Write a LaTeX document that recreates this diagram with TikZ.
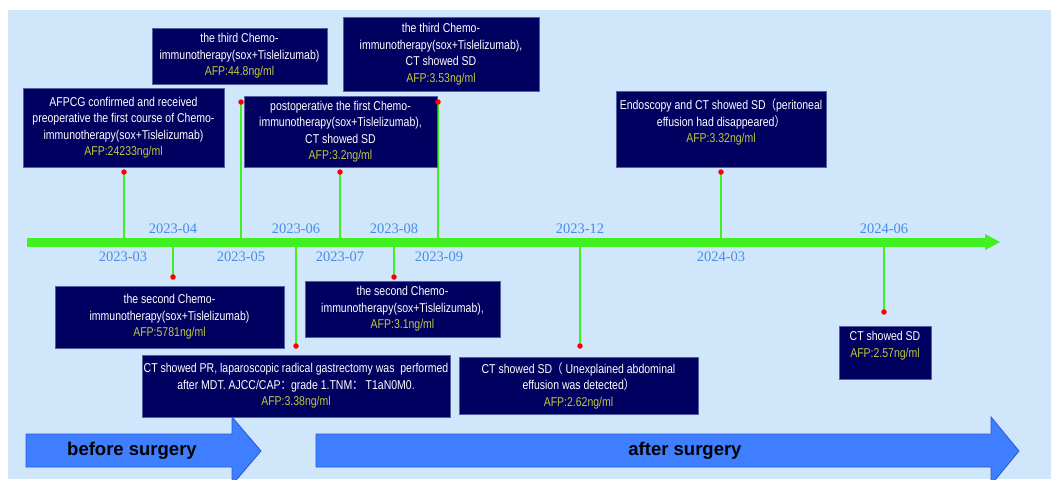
\documentclass[tikz,border=0pt]{standalone}
\usepackage{fontspec}
\setmainfont{Liberation Sans}
\newfontfamily\boxfont[FakeStretch=0.82]{Liberation Sans}
\newfontfamily\cjkf[FakeStretch=0.82]{Noto Sans CJK SC}
\newfontfamily\datefont{Liberation Serif}
\definecolor{bg}{RGB}{208,230,250}
\definecolor{navy}{RGB}{0,0,96}
\definecolor{navyedge}{RGB}{80,96,160}
\definecolor{afpc}{RGB}{190,200,60}
\definecolor{tl}{RGB}{64,240,32}
\definecolor{datec}{RGB}{74,140,230}
\definecolor{arrowfill}{RGB}{63,127,255}
\definecolor{arrowedge}{RGB}{40,90,210}
\newcommand\afpv[1]{\textcolor{afpc}{#1}}
\tikzset{
  box/.style={draw=navyedge, line width=0.8pt, fill=navy, text=white,
    font=\boxfont\fontsize{12.8}{16.5}\selectfont, align=center, inner sep=0pt},
  conn/.style={draw=tl, line width=2pt},
  reddot/.style={circle, fill=red, inner sep=0pt, minimum size=5.5pt},
  datelbl/.style={text=datec, font=\datefont\fontsize{14.5}{16}\selectfont, inner sep=0pt},
  bigarrow/.style={fill=arrowfill, draw=arrowedge, line width=0.8pt},
  arrowlbl/.style={font=\bfseries\fontsize{18.5}{20}\selectfont, text=black, inner sep=0pt}
}
\begin{document}
\begin{tikzpicture}[x=1pt,y=-1pt]
\useasboundingbox (0,0) rectangle (1051,479);
\clip (0,0) rectangle (1051,479);
% background
\fill[bg] (8,10) rectangle (1051,479);

% phase arrows
\draw[bigarrow] (26,434) -- (232,434) -- (232,417) -- (261,451) -- (232,485) -- (232,467) -- (26,467) -- cycle;
\node[arrowlbl] (before) at (132,451) {before surgery};
\draw[bigarrow] (316,434) -- (991,434) -- (991,417) -- (1019,451) -- (991,485) -- (991,467) -- (316,467) -- cycle;
\node[arrowlbl] (after) at (685,451) {after surgery};

% timeline coordinates
\coordinate (tlstart) at (27,242);
\coordinate (tlend) at (986,242);

% connector points on the line and their ends
\coordinate (t1) at (124,242);  \coordinate (e1) at (124,172);
\coordinate (t2) at (241,242);  \coordinate (e2) at (241,102);
\coordinate (t3) at (340,242);  \coordinate (e3) at (340,172);
\coordinate (t4) at (438,242);  \coordinate (e4) at (438,102);
\coordinate (t5) at (721,242);  \coordinate (e5) at (721,172);
\coordinate (b1) at (173,242);  \coordinate (f1) at (173,277);
\coordinate (b2) at (296,242);  \coordinate (f2) at (296,346);
\coordinate (b3) at (394,242);  \coordinate (f3) at (394,277);
\coordinate (b4) at (580,242);  \coordinate (f4) at (580,346);
\coordinate (b5) at (884,242);  \coordinate (f5) at (884,312);

\foreach \a/\b in {t1/e1,t2/e2,t3/e3,t4/e4,t5/e5,b1/f1,b2/f2,b3/f3,b4/f4,b5/f5}
  \draw[conn] (\a) -- (\b);

% timeline
\draw[draw=tl, line width=9pt] (tlstart) -- (tlend);
\fill[tl] (985,234) -- (1000,242) -- (985,250) -- cycle;

% boxes
\node[box, minimum width=201pt, minimum height=79pt] (A) at (123.5,127.5)
  {AFPCG confirmed and received\\preoperative the first course of Chemo-\\immunotherapy(sox+Tislelizumab)\\\afpv{AFP:24233ng/ml}};
\node[box, minimum width=175pt, minimum height=56pt] (B) at (239.5,56)
  {the third Chemo-\\immunotherapy(sox+Tislelizumab)\\\afpv{AFP:44.8ng/ml}};
\node[box, minimum width=196pt, minimum height=74pt] (C) at (441,54)
  {the third Chemo-\\immunotherapy(sox+Tislelizumab),\\CT showed SD\\\afpv{AFP:3.53ng/ml}};
\node[box, minimum width=193pt, minimum height=71pt] (D) at (340.5,131.5)
  {postoperative the first Chemo-\\immunotherapy(sox+Tislelizumab),\\CT showed SD\\\afpv{AFP:3.2ng/ml}};
\node[box, minimum width=210pt, minimum height=76pt] (E) at (721,129)
  {Endoscopy and CT showed SD{\cjkf （}peritoneal\\effusion had disappeared{\cjkf ）}\\\afpv{AFP:3.32ng/ml}\\\mbox{}};
\node[box, minimum width=229pt, minimum height=62pt] (F) at (169.5,317)
  {the second Chemo-\\immunotherapy(sox+Tislelizumab)\\\afpv{AFP:5781ng/ml}};
\node[box, minimum width=195pt, minimum height=56pt] (G) at (402.5,309)
  {the second Chemo-\\immunotherapy(sox+Tislelizumab),\\\afpv{AFP:3.1ng/ml}};
\node[box, minimum width=308pt, minimum height=62pt] (H) at (296,386)
  {CT showed PR, laparoscopic radical gastrectomy was~ performed\\after MDT. AJCC/CAP{\cjkf ：}grade 1.TNM{\cjkf ：} T1aN0M0.\\\afpv{AFP:3.38ng/ml}};
\node[box, minimum width=239pt, minimum height=57pt] (I) at (578.5,385.5)
  {CT showed SD{\cjkf （} Unexplained abdominal\\effusion was detected{\cjkf ）}\\\afpv{AFP:2.62ng/ml}};
\node[box, minimum width=92pt, minimum height=53pt] (J) at (885,352.5)
  {CT showed SD\\\afpv{AFP:2.57ng/ml}\\\mbox{}};

% red dots
\foreach \p in {e1,e2,e3,e4,e5,f1,f2,f3,f4,f5}
  \node[reddot] (dot\p) at (\p) {};

% date labels
\node[datelbl] (d0403) at (173,229) {2023-04};
\node[datelbl] (d0406) at (296,229) {2023-06};
\node[datelbl] (d0408) at (394,229) {2023-08};
\node[datelbl] (d0412) at (580,229) {2023-12};
\node[datelbl] (d0606) at (884,229) {2024-06};
\node[datelbl] (d0303) at (123,257) {2023-03};
\node[datelbl] (d0305) at (241,257) {2023-05};
\node[datelbl] (d0307) at (340,257) {2023-07};
\node[datelbl] (d0309) at (439,257) {2023-09};
\node[datelbl] (d0603) at (721,257) {2024-03};
\end{tikzpicture}
\end{document}
